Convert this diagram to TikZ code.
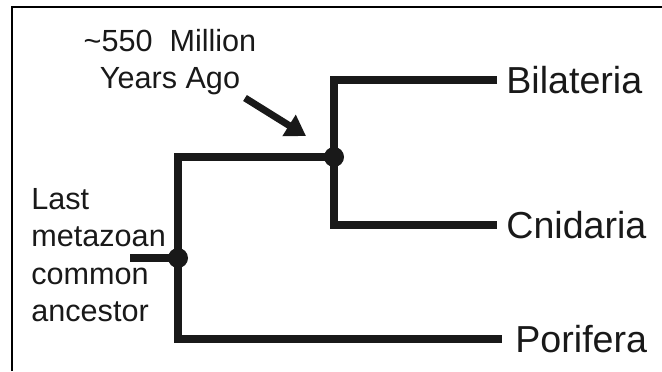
\documentclass[tikz,border=0pt]{standalone}
\usepackage{fontspec}
\setmainfont{Liberation Sans}
\usepackage{tikz}
\usetikzlibrary{arrows.meta,positioning}

\begin{document}
\begin{tikzpicture}[x=0.5pt, y=-0.5pt]
    % Define styles
    \tikzstyle{branch} = [line width=4pt, black!90]
    \tikzstyle{dot} = [circle, fill=black!90, inner sep=0pt, minimum size=10pt]
    \tikzstyle{taxon} = [anchor=west, inner ysep=0pt, inner xsep=4.5pt, font=\fontsize{18.8}{22}\selectfont, text=black!90]
    \tikzstyle{note} = [inner sep=0pt, font=\fontsize{15.3}{18.7}\selectfont, text=black!90]
    \tikzstyle{pointer} = [line width=3.5pt, black!90, -{Triangle[length=10pt, width=12pt]}]

    \useasboundingbox (0,0) rectangle (662,371);

    % Frame
    \draw [line width=1pt] (12,371) |- (662,7);

    % Branch points
    \node [dot] (lca) at (178,258) {};
    \node [dot] (n550) at (334,157) {};
    \coordinate (stem) at (130,258);

    % Taxa
    \node [taxon] (bil) at (497,80) {Bilateria};
    \node [taxon] (cni) at (497,225) {Cnidaria};
    \node [taxon, inner xsep=6.5pt] (pori) at (502,339) {Porifera};

    % Tree
    \draw [branch] (stem) -- (lca.center);
    \draw [branch] (n550.center) -| (lca.center) |- (pori.west);
    \draw [branch] (bil.west) -| (n550.center) |- (cni.west);

    % Labels
    \node [note, align=center, anchor=north] (age) at (170,29) {\textasciitilde550\ \ Million\\Years Ago};
    \node [note, align=left, anchor=north west] (lcalabel) at (31,188) {Last\\metazoan\\common\\ancestor};

    % Age arrow
    \coordinate (arrtail) at (245,98);
    \coordinate (arrtip) at (306,136);
    \draw [pointer] (arrtail) -- (arrtip);
\end{tikzpicture}
\end{document}
